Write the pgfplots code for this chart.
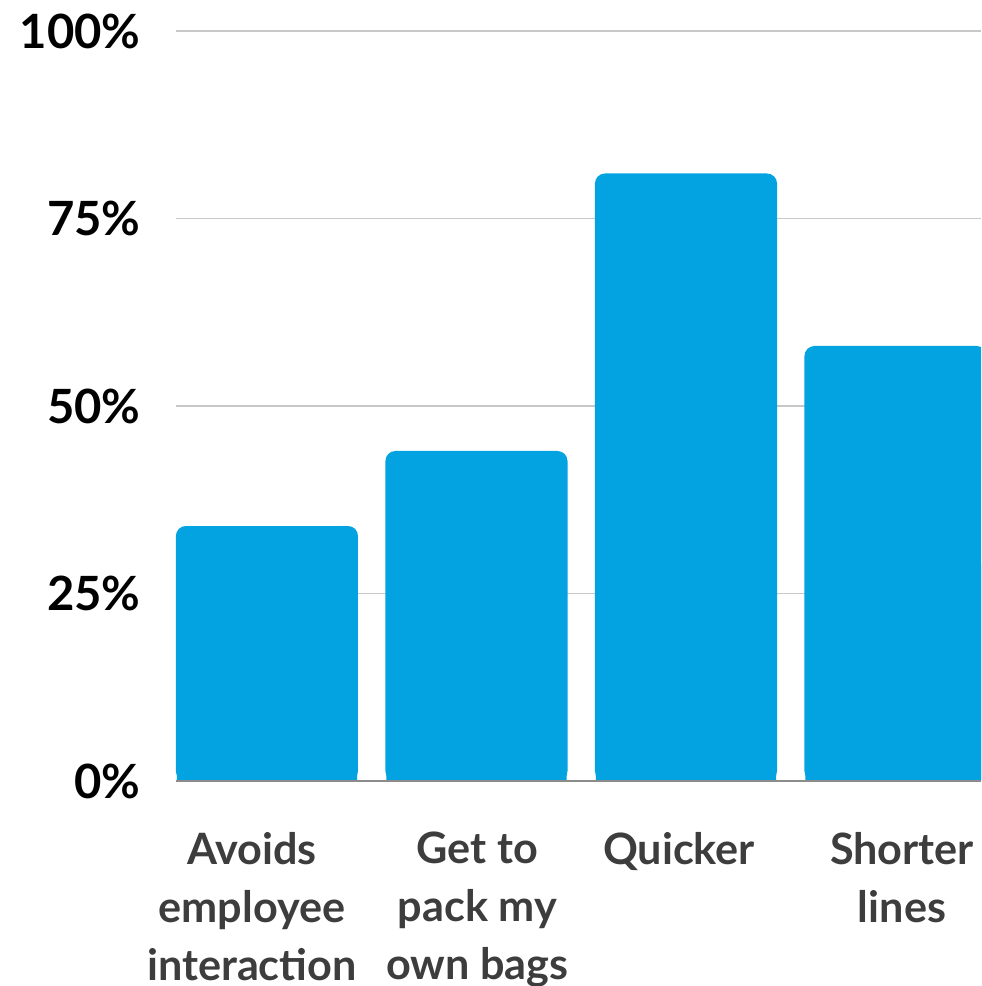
\documentclass[border=0pt]{standalone}
\usepackage{fontspec}
\setmainfont{Lato}
\usepackage{pgfplots}
\pgfplotsset{compat=1.18}
\definecolor{barblue}{HTML}{03A2E0}
\definecolor{gridgray}{HTML}{C8C8C8}
\definecolor{basegray}{HTML}{8C8C8C}
\definecolor{labgray}{HTML}{3D3D3D}
\begin{document}
\begin{tikzpicture}
\useasboundingbox (-88pt,-102.5pt) rectangle (402.5pt,390.5pt);
\begin{axis}[
  at={(0,0)}, anchor=south west,
  scale only axis,
  width=402.5pt, height=375pt,
  xmin=-0.434, xmax=3.408,
  ymin=0, ymax=100,
  ybar, bar width=0.869, bar shift=0pt,
  axis lines*=left, axis line style={draw=none},
  ymajorgrids=true,
  grid style={gridgray, line width=0.8pt},
  major tick length=0pt,
  ytick={0,25,50,75,100},
  yticklabels={0\%,25\%,50\%,75\%,100\%},
  yticklabel style={font=\bfseries\fontsize{23.6}{28}\selectfont, text=black, anchor=east, inner sep=0pt, xshift=-17.5pt},
  xtick={-0.0716,1.005,1.967,3.031},
  xticklabels={{Avoids\\employee\\interaction},{Get to\\pack my\\own bags},{Quicker},{Shorter\\lines}},
  xticklabel style={font=\bfseries\fontsize{21.6}{29}\selectfont, text=labgray, align=center, anchor=north, inner sep=0pt, yshift=-25.5pt},
  clip=true,
]
\addplot[fill=barblue, draw=none, bar width=0.86, y filter/.expression={y/2}] coordinates {(0,34) (1,44) (2,81) (3,58)};
\addplot[fill=barblue, draw=none, rounded corners=5pt] coordinates {(0,34) (1,44) (2,81) (3,58)};
\draw[basegray, line width=1pt] (rel axis cs:0,0) -- (rel axis cs:1,0);
\end{axis}
\end{tikzpicture}
\end{document}
